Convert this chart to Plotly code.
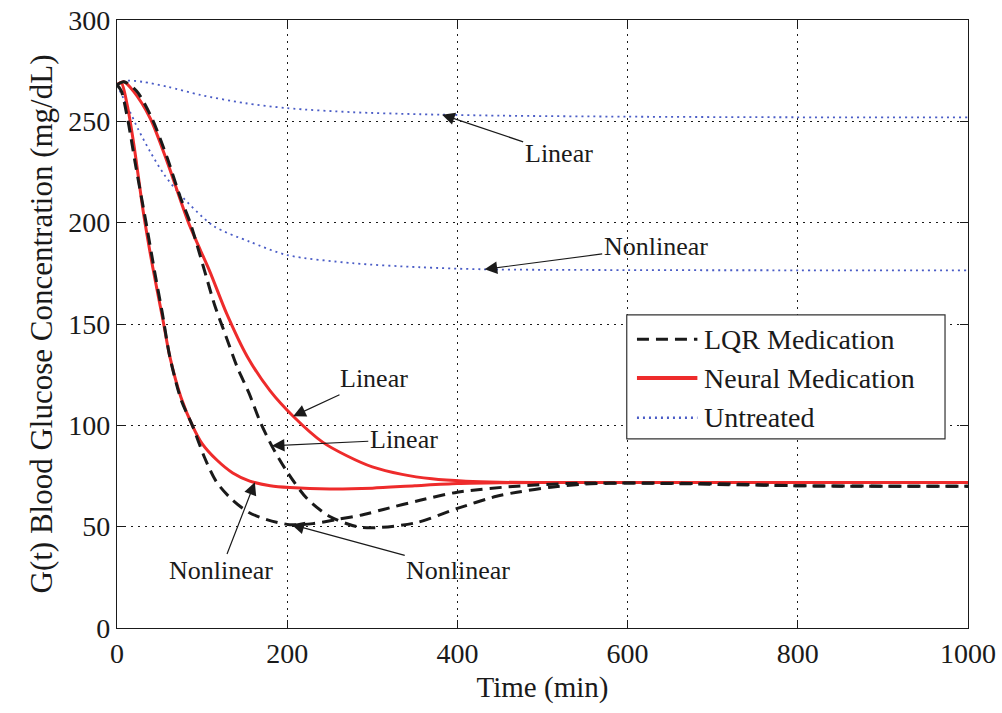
import numpy as np
import plotly.graph_objects as go

# ---- Blood glucose trajectories (time in minutes, glucose in mg/dL) ----
t_lqr_lin = [0, 8, 23, 41, 59, 74, 86, 101, 115, 128, 141, 155, 168, 183, 200, 223, 250, 282,
             305, 352, 400, 446, 470, 510, 548, 600, 700, 800, 900, 1000]
g_lqr_lin = [268, 269.5, 265, 251.5, 232, 213, 200, 179, 159, 144, 129, 116, 102, 89, 77, 64, 55, 50,
             49.5, 52, 59, 65, 67, 69.5, 71, 71.5, 71.2, 70.2, 70, 70]

t_lqr_nl = [0, 5, 13, 22, 35, 45, 53, 62, 75, 89, 103, 117, 136, 155, 176, 203, 230, 258, 290,
            313, 356, 400, 470, 548, 650, 750, 850, 1000]
g_lqr_nl = [268, 265, 250, 228, 198, 174, 156, 134, 113, 99.5, 84, 72, 63, 57, 53.5, 51, 51.5, 53.5, 56,
            58.5, 63, 67, 70, 71.5, 71.3, 70.5, 70, 70]

t_nn_lin = [0, 8, 19, 39, 59, 84, 109, 129, 153, 180, 207, 242, 270, 300, 335, 370, 410, 450, 500,
            600, 800, 1000]
g_nn_lin = [268, 269.5, 265, 251.5, 230, 200, 176, 155, 134, 117, 104.5, 91.6, 85, 79.5, 75.8, 73.6, 72.4, 71.9, 71.8,
            71.8, 71.8, 71.8]

t_nn_nl = [0, 5, 12, 20, 31, 42, 54, 62, 75, 89, 100, 117, 136, 156, 180, 203, 250, 300, 350, 400,
           450, 500, 700, 1000]
g_nn_nl = [268, 269, 258, 238, 205, 178, 152, 134, 114, 99.5, 91, 83, 76.5, 72.5, 70.2, 69.3, 68.6, 69, 70.2, 71.3,
           71.7, 71.8, 71.8, 71.8]

t_un_lin = [0, 10, 30, 60, 98, 150, 200, 277, 356, 450, 600, 800, 1000]
g_un_lin = [268, 270, 269.5, 267, 263, 259, 256.5, 254.5, 253.5, 252.8, 252.3, 252, 252]

t_un_nl = [0, 8, 15, 25, 39, 55, 74, 113, 156, 200, 277, 356, 430, 600, 800, 1000]
g_un_nl = [268, 261, 255, 246, 235, 224, 214, 198.5, 190.6, 184, 180, 178, 177, 176.6, 176.5, 176.5]

x_ticks = [0, 200, 400, 600, 800, 1000]
y_ticks = [0, 50, 100, 150, 200, 250, 300]

# ---- Styling ----
SERIF = "Liberation Serif, Times New Roman, serif"
RED = "#ee2b2b"
BLACK = "#1a1a1a"
BLUE = "#4a5cc6"
LQR_DASH = "12px,7px"
UN_DOT = "2px,4px"

fig = go.Figure()

def add_curve(t, g, color, width, dash):
    fig.add_trace(go.Scatter(
        x=t, y=g, mode="lines", showlegend=False, hoverinfo="skip",
        line=dict(color=color, width=width, dash=dash, shape="spline", smoothing=0.8),
    ))

add_curve(t_un_lin, g_un_lin, BLUE, 1.8, UN_DOT)
add_curve(t_un_nl, g_un_nl, BLUE, 1.8, UN_DOT)
add_curve(t_nn_lin, g_nn_lin, RED, 3, "solid")
add_curve(t_nn_nl, g_nn_nl, RED, 3, "solid")
add_curve(t_lqr_lin, g_lqr_lin, BLACK, 3, LQR_DASH)
add_curve(t_lqr_nl, g_lqr_nl, BLACK, 3, LQR_DASH)

# ---- Callouts: arrow tips sit on the curves at the given times ----
callouts = [
    ("Linear", t_un_lin, g_un_lin, 382, 519, 234),
    ("Nonlinear", t_un_nl, g_un_nl, 432, 633, 188),
    ("Linear", t_nn_lin, g_nn_lin, 207, 302, 123),
    ("Linear", t_lqr_lin, g_lqr_lin, 182, 337, 93),
    ("Nonlinear", t_nn_nl, g_nn_nl, 162, 122, 28.6),
    ("Nonlinear", t_lqr_nl, g_lqr_nl, 205, 401, 28.6),
]
for text, tt, gg, t_head, t_txt, g_txt in callouts:
    fig.add_annotation(
        x=t_head, y=float(np.interp(t_head, tt, gg)), xref="x", yref="y",
        ax=t_txt, ay=g_txt, axref="x", ayref="y",
        text=text, showarrow=True, arrowhead=2, arrowsize=2.1, arrowwidth=1.2,
        arrowcolor=BLACK, standoff=0,
        font=dict(family=SERIF, size=26, color=BLACK),
    )

# ---- Legend box drawn in the plot area ----
fig.add_shape(type="rect", xref="paper", yref="paper", x0=0.599, x1=0.973, y0=0.311, y1=0.515,
              line=dict(color="#333333", width=1.2), fillcolor="white", layer="above")
legend_rows = [
    ("LQR Medication", BLACK, 3, LQR_DASH, 0.475),
    ("Neural Medication", RED, 4, "solid", 0.411),
    ("Untreated", BLUE, 2.5, UN_DOT, 0.346),
]
for label, color, width, dash, yy in legend_rows:
    fig.add_shape(type="line", xref="paper", yref="paper", x0=0.611, x1=0.682, y0=yy, y1=yy,
                  line=dict(color=color, width=width, dash=dash), layer="above")
    fig.add_annotation(x=0.687, y=yy, xref="paper", yref="paper", text=label, showarrow=False,
                       xanchor="left", yanchor="middle",
                       font=dict(family=SERIF, size=28, color=BLACK))

axis_common = dict(
    showline=True, linecolor=BLACK, linewidth=1.2, mirror="allticks",
    ticks="inside", ticklen=8, tickwidth=1.2, tickcolor=BLACK,
    showgrid=True, gridcolor=BLACK, gridwidth=1, griddash="2px,5px",
    zeroline=False, automargin=False,
    tickfont=dict(family=SERIF, size=28, color=BLACK),
)

fig.update_xaxes(range=[0, 1000], tickvals=x_ticks, ticktext=[str(v) for v in x_ticks],
                 title=dict(text="Time (min)", font=dict(family=SERIF, size=29, color=BLACK), standoff=8),
                 **axis_common)
fig.update_yaxes(range=[0, 300], tickvals=y_ticks, ticktext=[str(v) for v in y_ticks],
                 title=dict(text="G(t) Blood Glucose Concentration (mg/dL)",
                            font=dict(family=SERIF, size=31, color=BLACK), standoff=6),
                 **axis_common)

fig.update_layout(
    width=1002, height=713,
    margin=dict(l=117, r=34, t=20, b=85),
    paper_bgcolor="white", plot_bgcolor="white",
    showlegend=False,
)

fig.write_html("out.html")
